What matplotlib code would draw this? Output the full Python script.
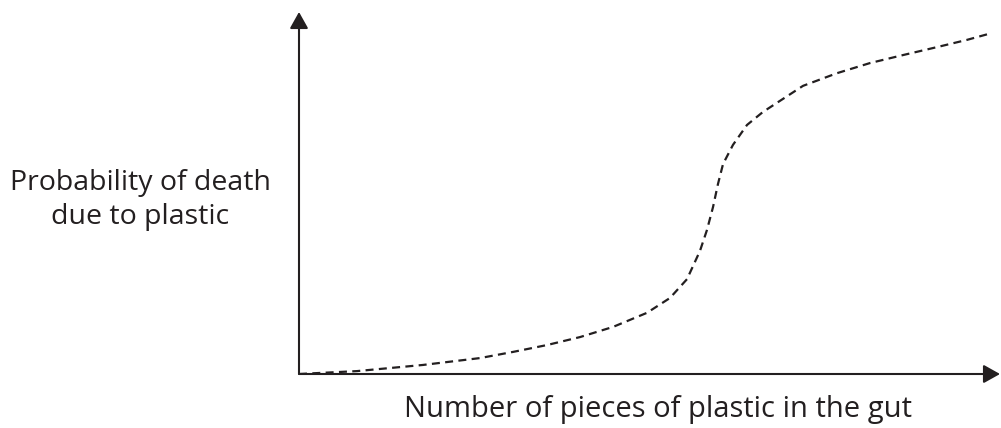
import matplotlib.pyplot as plt

# curve (x: pieces of plastic, arbitrary 0-100; y: probability 0-1)
pieces = [0, 8.27, 17.69, 25.82, 30.53, 35.38, 40.09, 44.79, 49.64, 52.92, 55.35,
          57.20, 58.20, 59.06, 59.77, 60.49, 61.91, 63.91, 66.19, 68.33, 71.90,
          76.75, 81.46, 86.16, 91.01, 95.29, 98.29]
prob = [0, 0.008, 0.025, 0.044, 0.061, 0.080, 0.102, 0.130, 0.169, 0.210, 0.262,
        0.340, 0.398, 0.461, 0.525, 0.580, 0.633, 0.688, 0.724, 0.751, 0.796,
        0.831, 0.859, 0.881, 0.903, 0.923, 0.939]

ink = '#231f20'
plt.rcParams['font.family'] = ['Open Sans', 'DejaVu Sans']

fig = plt.figure(figsize=(10.01, 4.28), dpi=100)
ax = fig.add_axes([299 / 1001, (428 - 374) / 428, 701 / 1001, 362 / 428])
ax.set_xlim(0, 100)
ax.set_ylim(0, 1)
ax.axis('off')

ax.plot(pieces, prob, color=ink, lw=1.6, linestyle=(0, (3.6, 2.4)),
        solid_joinstyle='round')

arrow = dict(arrowstyle='-|>,head_length=0.5,head_width=0.28', color=ink,
             lw=1.5, mutation_scale=20, shrinkA=0, shrinkB=0)
ax.annotate('', xy=(100, 0), xytext=(0, 0), arrowprops=arrow, annotation_clip=False)
ax.annotate('', xy=(0, 1), xytext=(0, 0), arrowprops=arrow, annotation_clip=False)

fig.text(140 / 1001, 1 - 200 / 428, 'Probability of death\ndue to plastic',
         ha='center', va='center', fontsize=20.5, color=ink, linespacing=1.3)
fig.text(658 / 1001, 1 - 410 / 428, 'Number of pieces of plastic in the gut',
         ha='center', va='center', fontsize=21, color=ink)

fig.savefig('out.png', dpi=100)
